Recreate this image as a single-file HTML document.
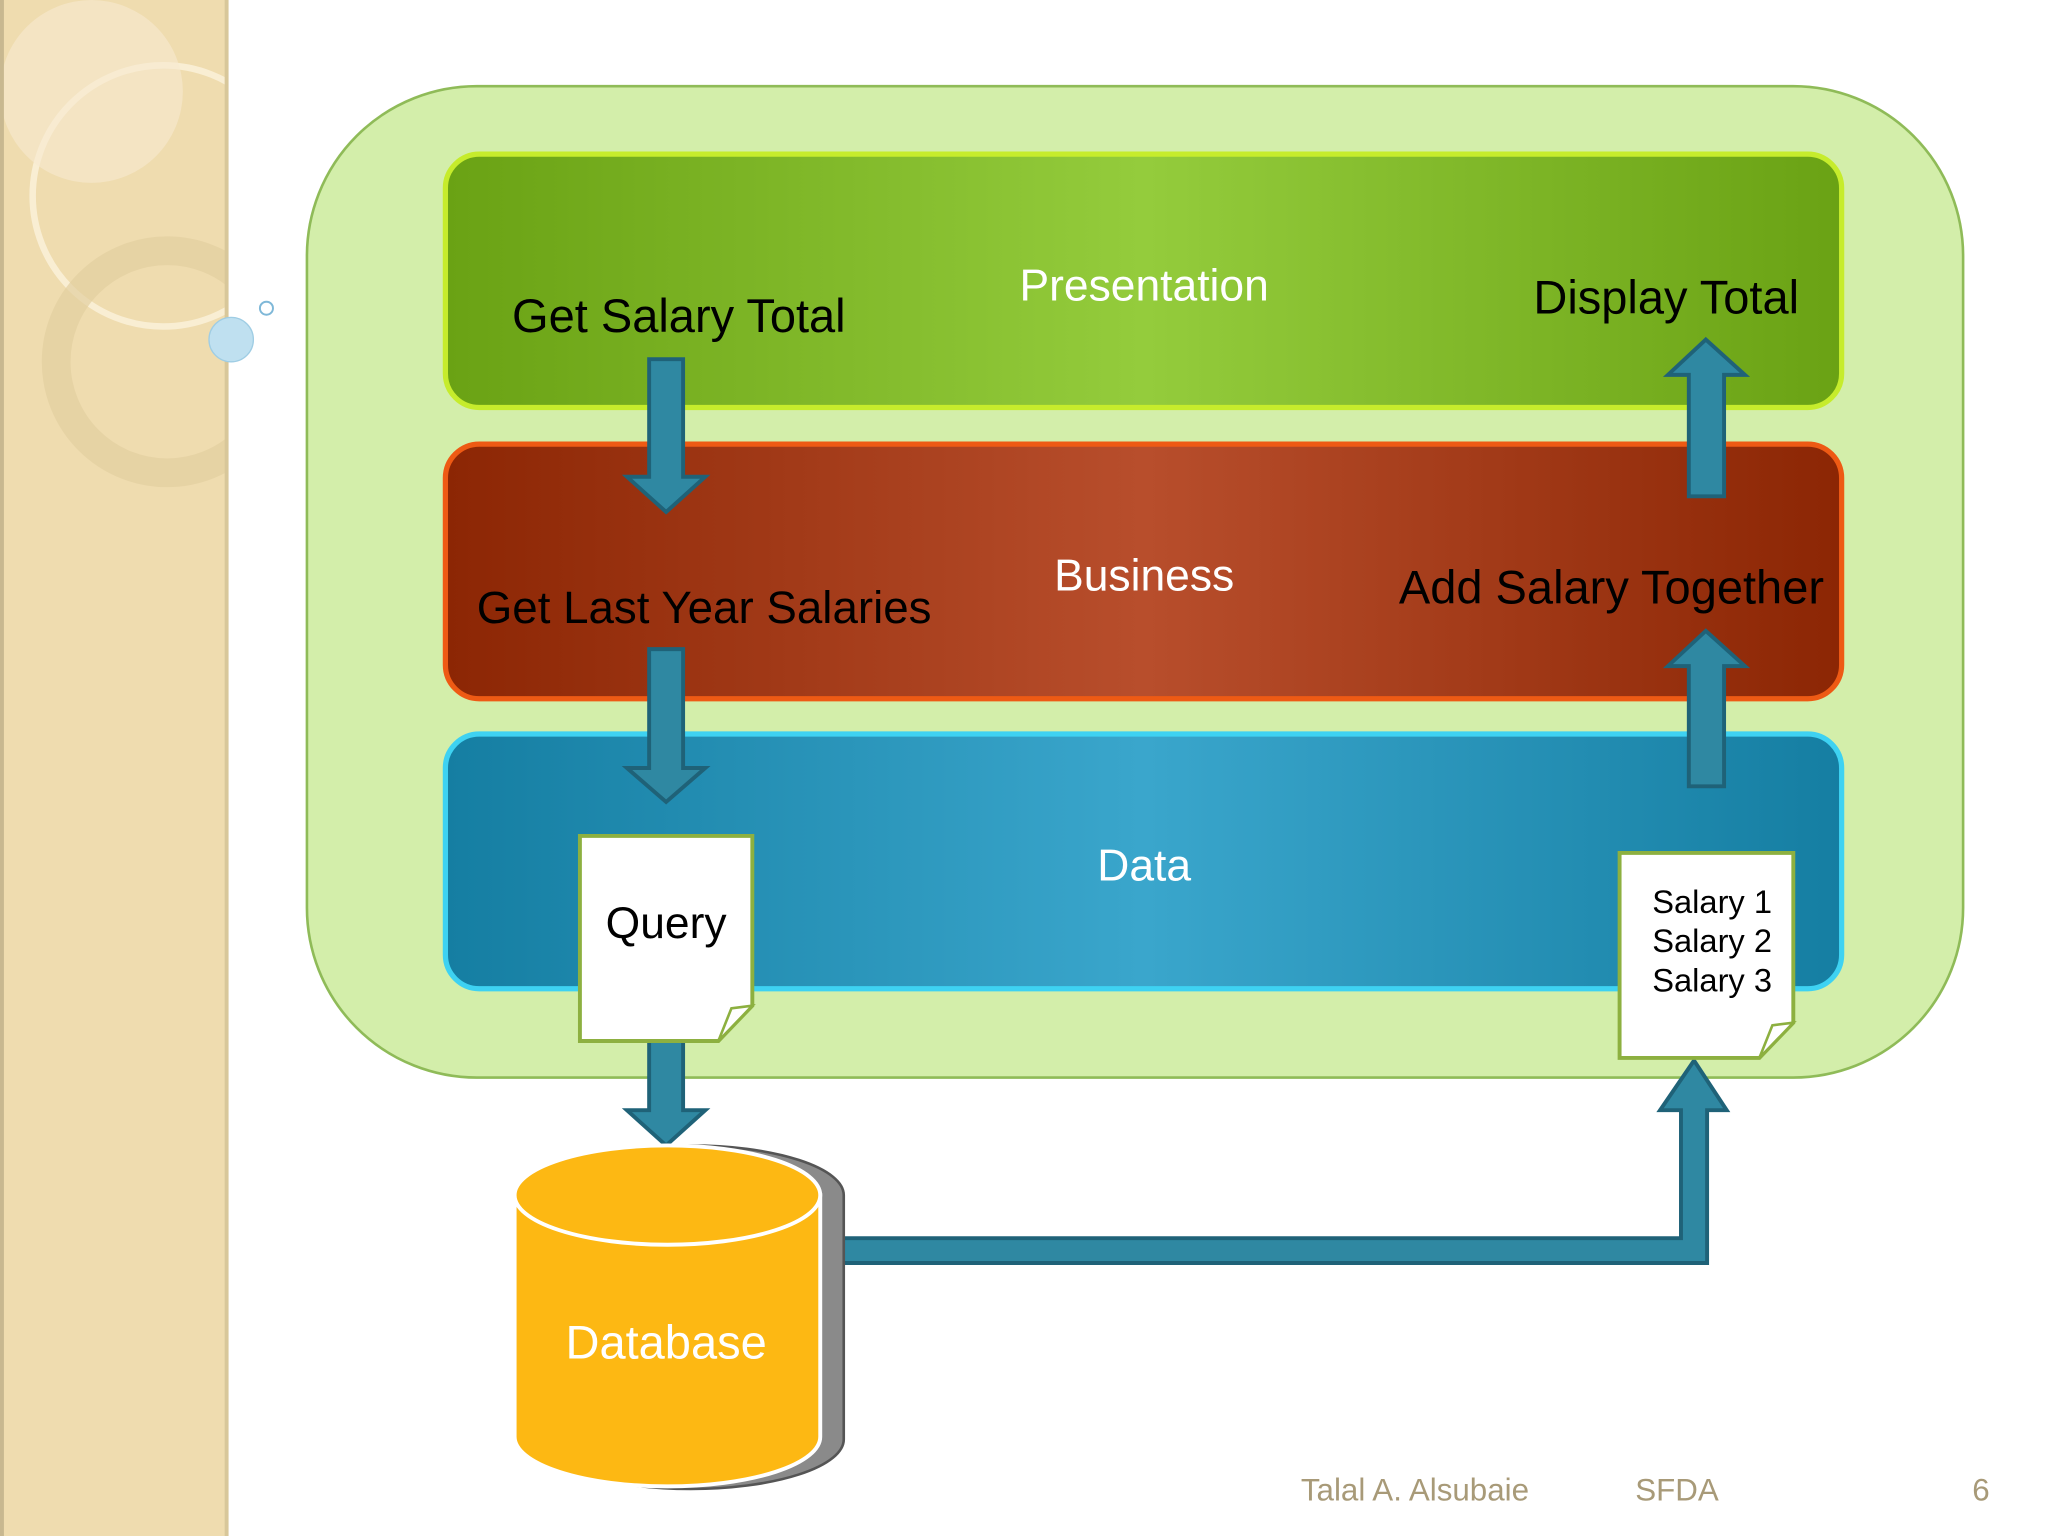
<!DOCTYPE html>
<html><head><meta charset="utf-8"><style>
html,body{margin:0;padding:0;background:#fff;}
svg{display:block;}
text{font-family:"Liberation Sans",sans-serif;}
</style></head><body>
<svg width="2048" height="1536" viewBox="0 0 1568 1176" xmlns="http://www.w3.org/2000/svg">
<defs>
<linearGradient id="gG" x1="0" y1="0" x2="1" y2="0">
<stop offset="0" stop-color="#6aa214"/><stop offset="0.5" stop-color="#94cc3c"/><stop offset="1" stop-color="#6aa214"/></linearGradient>
<linearGradient id="gR" x1="0" y1="0" x2="1" y2="0">
<stop offset="0" stop-color="#8c2604"/><stop offset="0.5" stop-color="#b84e2c"/><stop offset="1" stop-color="#8c2604"/></linearGradient>
<linearGradient id="gB" x1="0" y1="0" x2="1" y2="0">
<stop offset="0" stop-color="#157ea2"/><stop offset="0.5" stop-color="#3aa6cc"/><stop offset="1" stop-color="#157ea2"/></linearGradient>
<clipPath id="strip"><rect x="0" y="0" width="173" height="1176"/></clipPath>
</defs>
<rect x="0" y="0" width="174" height="1176" fill="#efdcaf"/>
<g clip-path="url(#strip)">
<circle cx="125" cy="150" r="100" fill="none" stroke="#fbf2dc" stroke-width="5" opacity="0.8"/>
<circle cx="128" cy="277" r="85" fill="none" stroke="#e2cea0" stroke-width="22" opacity="0.7"/>
<circle cx="70" cy="70" r="70" fill="#f6ead0" opacity="0.6"/>
</g>
<rect x="172" y="0" width="3" height="1176" fill="#d8c79a"/>
<rect x="0" y="0" width="3" height="1176" fill="#c8b890"/>
<circle cx="177" cy="260" r="17" fill="#bfe0f0" stroke="#9fcde4"/>
<circle cx="204" cy="236" r="5" fill="#fff" stroke="#7fb8d8" stroke-width="1.5"/>

<rect x="235" y="66" width="1268" height="759" rx="130" fill="#d3eeaa" stroke="#8fbb58" stroke-width="2"/>

<rect x="341" y="118" width="1069" height="194" rx="26" fill="url(#gG)" stroke="#c6ec2c" stroke-width="4"/>
<rect x="341" y="340" width="1069" height="195" rx="26" fill="url(#gR)" stroke="#ee5a14" stroke-width="4"/>
<rect x="341" y="562" width="1069" height="195" rx="26" fill="url(#gB)" stroke="#3ed2f2" stroke-width="4"/>

<text x="876" y="230" font-size="34" fill="#fff" text-anchor="middle">Presentation</text>
<text x="392" y="254" font-size="36" fill="#000">Get Salary Total</text>
<text x="1174" y="240" font-size="36" fill="#000">Display Total</text>
<text x="876" y="452" font-size="34" fill="#fff" text-anchor="middle">Business</text>
<text x="365" y="477" font-size="35" fill="#000">Get Last Year Salaries</text>
<text x="1071" y="462" font-size="36" fill="#000">Add Salary Together</text>
<text x="876" y="674" font-size="34" fill="#fff" text-anchor="middle">Data</text>

<g fill="#2f88a2" stroke="#1f6278" stroke-width="3">
<polygon points="497,275 523,275 523,365 540,365 510,392 480,365 497,365"/>
<polygon points="497,497 523,497 523,588 540,588 510,614 480,588 497,588"/>
<polygon points="1293,380 1320,380 1320,287 1336,287 1306,260 1277,287 1293,287"/>
<polygon points="1293,602 1320,602 1320,510 1336,510 1306,483 1277,510 1293,510"/>
<polygon points="497,797 523,797 523,850 540,850 510,877 480,850 497,850"/>
<polygon points="628,948 1287,948 1287,850 1271,850 1297,812 1322,850 1307,850 1307,967 628,967"/>
</g>

<polygon points="444,640 576,640 576,770 550,797 444,797" fill="#fff" stroke="#8db040" stroke-width="3"/>
<polygon points="576,770 560,772 550,797" fill="#fff" stroke="#8db040" stroke-width="2"/>
<text x="510" y="718" font-size="34" fill="#000" text-anchor="middle">Query</text>

<polygon points="1240,653 1373,653 1373,783 1347,810 1240,810" fill="#fff" stroke="#8db040" stroke-width="3"/>
<polygon points="1373,783 1357,785 1347,810" fill="#fff" stroke="#8db040" stroke-width="2"/>
<text x="1265" y="699" font-size="25" fill="#000">Salary 1</text>
<text x="1265" y="729" font-size="25" fill="#000">Salary 2</text>
<text x="1265" y="759" font-size="25" fill="#000">Salary 3</text>

<g>
<path d="M412,915 A117,38 0 0 1 646,915 L646,1102 A117,38 0 0 1 412,1102 Z" fill="#8a8a8a" stroke="#555" stroke-width="2"/>
<path d="M394,915 L394,1100 A117,38 0 0 0 628,1100 L628,915 Z" fill="#fdb813" stroke="#fff" stroke-width="3"/>
<ellipse cx="511" cy="915" rx="117" ry="38" fill="#fdb813" stroke="#fff" stroke-width="3"/>
</g>
<text x="510" y="1040" font-size="36" fill="#fff" text-anchor="middle">Database</text>

<text x="996" y="1149" font-size="24" fill="#a89a78">Talal A. Alsubaie</text>
<text x="1252" y="1149" font-size="24" fill="#a89a78">SFDA</text>
<text x="1510" y="1149" font-size="24" fill="#a89a78">6</text>
</svg>
</body></html>
